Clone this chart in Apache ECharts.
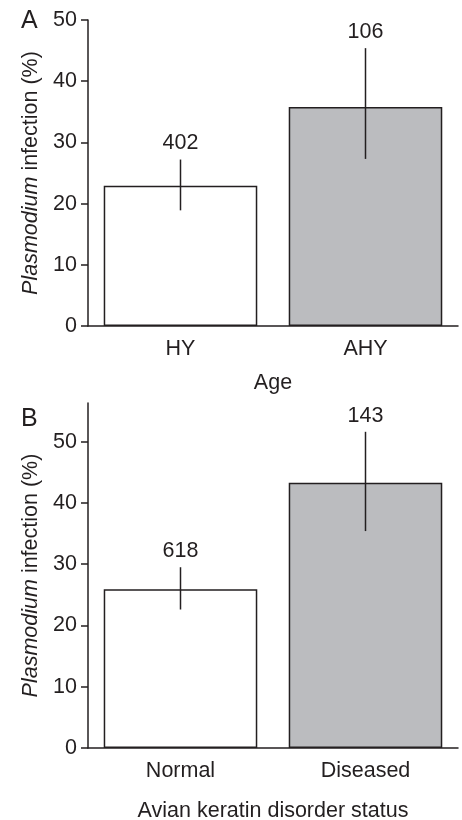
<!DOCTYPE html>
<html>
<head>
<meta charset="utf-8">
<script src="https://cdn.jsdelivr.net/npm/echarts@6/dist/echarts.min.js"></script>
<style>
html,body{margin:0;padding:0;background:#fff;}
#chart{width:462px;height:820px;}
</style>
</head>
<body>
<div id="chart"></div>
<script>
// ---- data ----
const ageCats = ['HY', 'AHY'];
const agePct = [22.9, 35.8];
const ageLow = [18.9, 27.3];
const ageHigh = [27.2, 45.4];
const ageN = [402, 106];

const akdCats = ['Normal', 'Diseased'];
const akdPct = [25.9, 43.3];
const akdLow = [22.6, 35.4];
const akdHigh = [29.5, 51.6];
const akdN = [618, 143];

const yTicks = [0, 10, 20, 30, 40, 50];

// ---- styles ----
const INK = '#231f20';
const FONT = "'Liberation Sans', Arial, Helvetica, sans-serif";
const FS = 21.5;
const barFill = ['#ffffff', '#bbbcbf'];

function barData(vals) {
  return vals.map((v, i) => ({
    value: v,
    itemStyle: { color: barFill[i], borderColor: INK, borderWidth: 1.5 }
  }));
}
function errData(lo, hi, n) {
  return lo.map((l, i) => [i, l, hi[i], n[i]]);
}
function renderErr(params, api) {
  const i = api.value(0);
  const p1 = api.coord([i, api.value(1)]);
  const p2 = api.coord([i, api.value(2)]);
  return {
    type: 'group',
    children: [
      { type: 'line', shape: { x1: p1[0], y1: p1[1], x2: p2[0], y2: p2[1] },
        style: { stroke: INK, lineWidth: 1.5 } },
      { type: 'text', x: p2[0], y: p2[1] - 16,
        style: { text: String(api.value(3)), fill: INK, font: FS + 'px ' + FONT,
                 textAlign: 'center', textVerticalAlign: 'middle' } }
    ]
  };
}

function yAxis(gridIndex, max) {
  return {
    type: 'value', gridIndex: gridIndex, min: 0, max: max,
    name: '{i|Plasmodium} infection (%)',
    nameLocation: 'middle', nameGap: 44,
    nameTextStyle: {
      color: INK, fontSize: FS, fontFamily: FONT,
      rich: { i: { fontStyle: 'italic', fontSize: FS, fontFamily: FONT, color: INK } }
    },
    axisLine: { show: true, lineStyle: { color: INK, width: 1.5 } },
    axisTick: { show: true, inside: false, length: 7, lineStyle: { color: INK, width: 1.5 },
                customValues: yTicks },
    axisLabel: { color: INK, fontSize: FS, fontFamily: FONT, margin: 11,
                 customValues: yTicks },
    splitLine: { show: false }
  };
}
function xAxis(gridIndex, cats, name, gap) {
  return {
    type: 'category', gridIndex: gridIndex, data: cats,
    name: name, nameLocation: 'middle', nameGap: gap,
    nameTextStyle: { color: INK, fontSize: FS, fontFamily: FONT },
    axisLine: { show: true, lineStyle: { color: INK, width: 1.5 } },
    axisTick: { show: false },
    axisLabel: { color: INK, fontSize: FS, fontFamily: FONT, margin: 12 }
  };
}

const chart = echarts.init(document.getElementById('chart'), null, { renderer: 'canvas' });
chart.setOption({
  backgroundColor: '#ffffff',
  animation: false,
  title: [
    { text: 'A', left: 16, top: 4, textStyle: { color: INK, fontSize: 25, fontWeight: 'normal', fontFamily: FONT } },
    { text: 'B', left: 16, top: 402, textStyle: { color: INK, fontSize: 25, fontWeight: 'normal', fontFamily: FONT } }
  ],
  grid: [
    { left: 88, top: 20, width: 370, height: 306, containLabel: false, outerBoundsMode: 'none' },
    { left: 88, top: 403, width: 370, height: 345, containLabel: false, outerBoundsMode: 'none' }
  ],
  xAxis: [ xAxis(0, ageCats, 'Age', 46), xAxis(1, akdCats, 'Avian keratin disorder status', 52) ],
  yAxis: [ yAxis(0, 50), yAxis(1, 56.3) ],
  series: [
    { type: 'bar', xAxisIndex: 0, yAxisIndex: 0, data: barData(agePct), barWidth: '83%' },
    { type: 'custom', xAxisIndex: 0, yAxisIndex: 0, data: errData(ageLow, ageHigh, ageN),
      renderItem: renderErr, encode: { x: 0, y: [1, 2] }, z: 5 },
    { type: 'bar', xAxisIndex: 1, yAxisIndex: 1, data: barData(akdPct), barWidth: '83%' },
    { type: 'custom', xAxisIndex: 1, yAxisIndex: 1, data: errData(akdLow, akdHigh, akdN),
      renderItem: renderErr, encode: { x: 0, y: [1, 2] }, z: 5 }
  ]
});
</script>
</body>
</html>
